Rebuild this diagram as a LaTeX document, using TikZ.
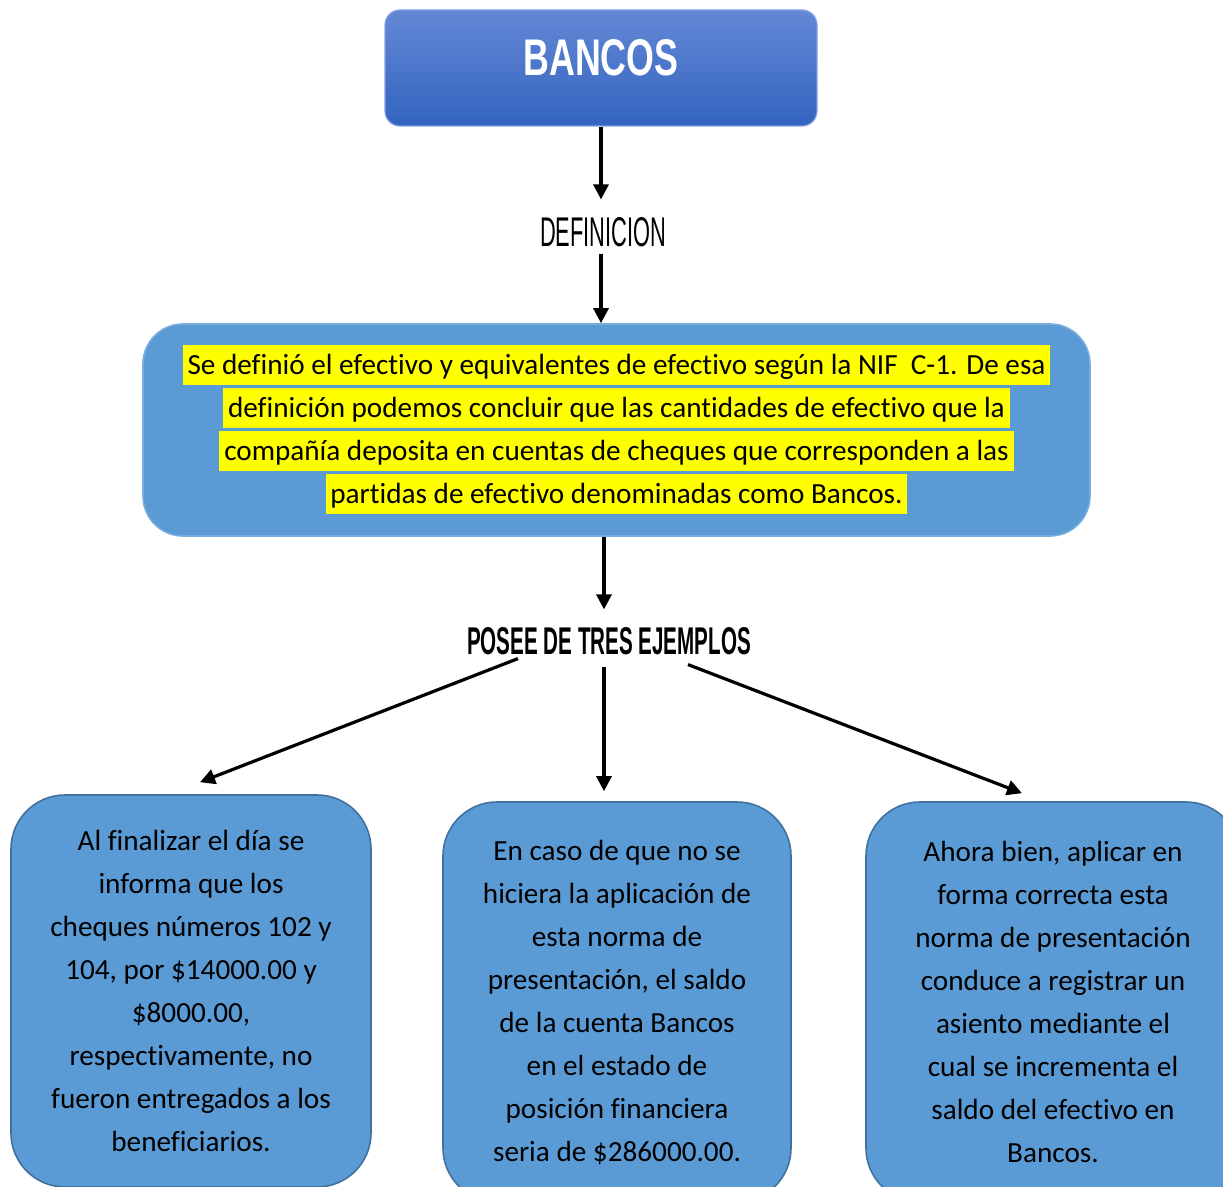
\documentclass[tikz,border=0pt]{standalone}
\usepackage{fontspec}
\setmainfont{Carlito}[Ligatures=NoCommon]
\newfontfamily\headfont{Liberation Sans}
\usetikzlibrary{arrows.meta,calc}
\definecolor{boxblue}{RGB}{91,155,213}
\definecolor{boxedge}{RGB}{65,113,156}
\definecolor{midedge}{RGB}{120,172,222}
\definecolor{topA}{RGB}{100,136,214}
\definecolor{topB}{RGB}{50,100,190}
\definecolor{topedge}{RGB}{130,160,225}
\definecolor{hlyellow}{RGB}{255,255,0}
\newcommand\hlline[1]{{\setlength\fboxsep{0pt}\colorbox{hlyellow}{\rule[-5.5pt]{0pt}{20pt}\,#1\,}}}
\begin{document}
\begin{tikzpicture}[x=0.5pt,y=-0.5pt,
  arr/.style={line width=1.6pt,-{Triangle[length=7.5pt,width=7.5pt]}},
  bodytext/.style={font=\fontsize{14.6pt}{21.5pt}\selectfont},
  titlebox/.style={draw=topedge,line width=0.6pt,top color=topA,bottom color=topB,rounded corners=7.5pt,
    minimum width=216pt,minimum height=58pt,inner sep=0pt,text=white,text depth=10pt},
  defbox/.style={draw=midedge,line width=0.8pt,fill=boxblue,rounded corners=20pt,
    minimum width=473.5pt,minimum height=106pt,inner sep=0pt,align=center,bodytext},
  leaf/.style={draw=boxedge,line width=0.8pt,fill=boxblue,rounded corners=27pt,
    inner sep=0pt,align=center,bodytext},
  heading/.style={inner xsep=0pt,inner ysep=9pt}]
\useasboundingbox (0,0) rectangle (1223,1187);
\clip (0,0) rectangle (1223,1187);

\node[titlebox] (bancos) at (601,68) {\resizebox{77.5pt}{18pt}{\headfont\bfseries BANCOS}};
\node[heading] (def) at (603,232.5) {\resizebox{63pt}{14.5pt}{\headfont DEFINICION}};
\node[defbox] (defbox) at (616.5,430) {%
\hlline{Se definió el efectivo y equivalentes de efectivo según la NIF~ C-1. De esa}\\
\hlline{definición podemos concluir que las cantidades de efectivo que la}\\
\hlline{compañía deposita en cuentas de cheques que corresponden a las}\\
\hlline{partidas de efectivo denominadas como Bancos.}};
\node[heading] (posee) at (609,641.5) {\resizebox{142pt}{13.5pt}{\headfont\bfseries POSEE DE TRES EJEMPLOS}};

\node[leaf,minimum width=180pt,minimum height=196pt] (left) at (191,991) {%
Al finalizar el día se\\informa que los\\cheques números 102 y\\104, por \$14000.00 y\\\$8000.00,\\respectivamente, no\\fueron entregados a los\\beneficiarios.};
\node[leaf,minimum width=174pt,minimum height=200pt] (mid) at (617,1002) {%
En caso de que no se\\hiciera la aplicación de\\esta norma de\\presentación, el saldo\\de la cuenta Bancos\\en el estado de\\posición financiera\\seria de \$286000.00.};
\node[leaf,minimum width=187pt,minimum height=200pt] (right) at (1053,1002) {%
Ahora bien, aplicar en\\forma correcta esta\\norma de presentación\\conduce a registrar un\\asiento mediante el\\cual se incrementa el\\saldo del efectivo en\\Bancos.};

\draw[arr] (bancos.south) -- (bancos.south |- def.north);
\draw[arr,shorten <=-6pt] (bancos.south |- def.south) -- (bancos.south |- defbox.north);
\draw[arr] ([xshift=-2.5pt]posee.north |- defbox.south) -- ([xshift=-2.5pt]posee.north);
\draw[arr] ([xshift=-45.5pt,yshift=7.5pt]posee.south) -- ([xshift=4.5pt,yshift=6pt]left.north);
\draw[arr] ([xshift=-2.5pt,yshift=3.5pt]posee.south) -- ([xshift=-6.5pt,yshift=5pt]mid.north);
\draw[arr] ([xshift=39.5pt,yshift=4.5pt]posee.south) -- ([xshift=-15.5pt,yshift=4pt]right.north);
\end{tikzpicture}
\end{document}
